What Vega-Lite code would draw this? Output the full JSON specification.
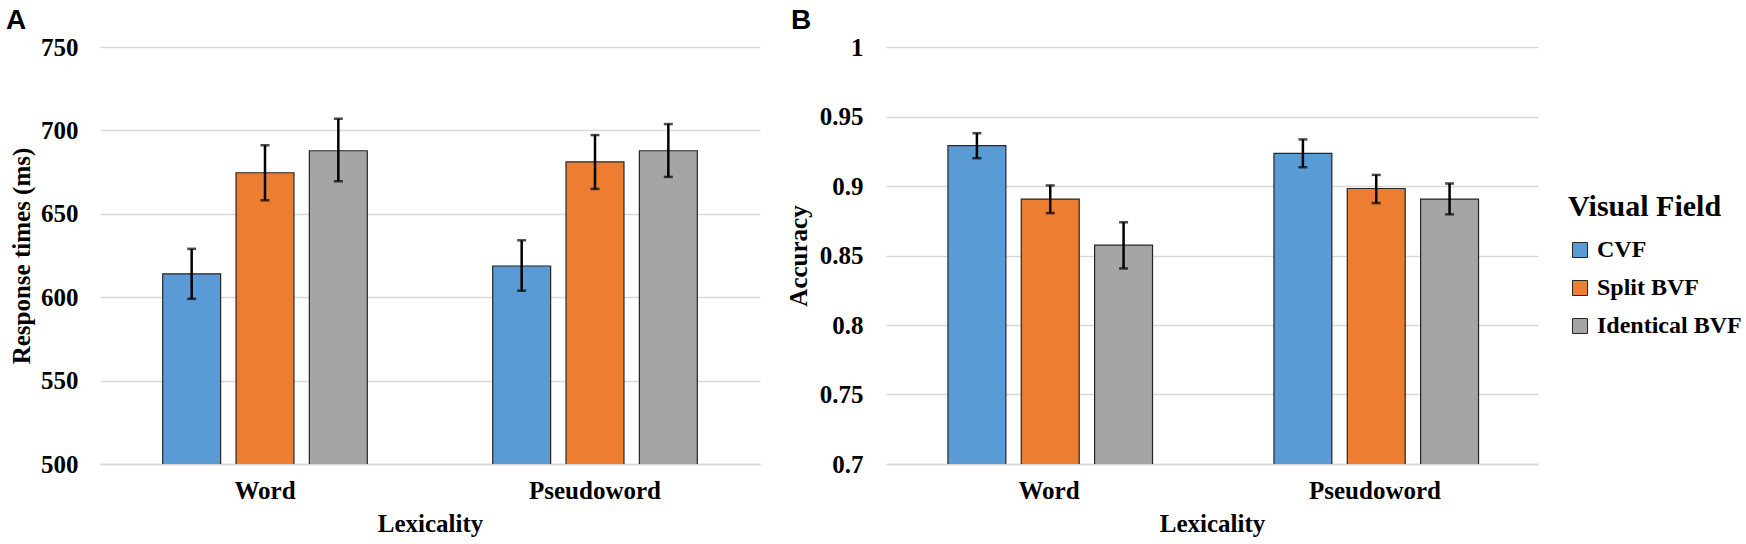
{
  "$schema": "https://vega.github.io/schema/vega-lite/v6.json",
  "background": "white",
  "padding": {"left": 6, "top": 7, "right": 5, "bottom": 5},
  "bounds": "flush",
  "spacing": 126,
  "datasets": {
    "rt": [
      {"lex": "Word", "field": "CVF", "mean": 614.0, "lo": 599.0, "hi": 629.0},
      {"lex": "Word", "field": "Split BVF", "mean": 674.6, "lo": 658.1, "hi": 691.1},
      {"lex": "Word", "field": "Identical BVF", "mean": 687.8, "lo": 669.5, "hi": 707.0},
      {"lex": "Pseudoword", "field": "CVF", "mean": 618.7, "lo": 603.9, "hi": 634.1},
      {"lex": "Pseudoword", "field": "Split BVF", "mean": 681.1, "lo": 664.9, "hi": 697.2},
      {"lex": "Pseudoword", "field": "Identical BVF", "mean": 687.8, "lo": 672.1, "hi": 703.8}
    ],
    "acc": [
      {"lex": "Word", "field": "CVF", "mean": 0.929, "lo": 0.920, "hi": 0.938},
      {"lex": "Word", "field": "Split BVF", "mean": 0.8906, "lo": 0.8805, "hi": 0.9004},
      {"lex": "Word", "field": "Identical BVF", "mean": 0.8574, "lo": 0.8407, "hi": 0.8739},
      {"lex": "Pseudoword", "field": "CVF", "mean": 0.9235, "lo": 0.9135, "hi": 0.9335},
      {"lex": "Pseudoword", "field": "Split BVF", "mean": 0.8982, "lo": 0.8877, "hi": 0.908},
      {"lex": "Pseudoword", "field": "Identical BVF", "mean": 0.8906, "lo": 0.8796, "hi": 0.9018}
    ]
  },
  "resolve": {"legend": {"color": "independent"}, "scale": {"y": "independent"}},
  "hconcat": [
    {
      "width": 660,
      "height": 417,
      "data": {"name": "rt"},
      "title": {"text": "A", "anchor": "start", "frame": "group", "dx": -94, "offset": 0},
      "encoding": {
        "x": {
          "field": "lex", "type": "nominal", "sort": ["Word", "Pseudoword"],
          "scale": {"paddingInner": 0.38, "paddingOuter": 0.19},
          "axis": {"title": "Lexicality"}
        },
        "xOffset": {
          "field": "field", "type": "nominal", "sort": ["CVF", "Split BVF", "Identical BVF"],
          "scale": {"paddingInner": 0.21, "paddingOuter": 0}
        }
      },
      "layer": [
        {
          "mark": {"type": "bar", "stroke": "#262626", "strokeWidth": 1.2, "clip": true},
          "encoding": {
            "y": {
              "field": "mean", "type": "quantitative",
              "scale": {"domain": [500, 750], "zero": false, "nice": false},
              "axis": {"title": "Response times (ms)", "values": [500, 550, 600, 650, 700, 750], "labelPadding": 22, "titlePadding": 6}
            },
            "color": {
              "field": "field", "type": "nominal", "sort": ["CVF", "Split BVF", "Identical BVF"],
              "scale": {"domain": ["CVF", "Split BVF", "Identical BVF"], "range": ["#5B9BD5", "#ED7D31", "#A5A5A5"]},
              "legend": null
            }
          }
        },
        {
          "mark": {"type": "rule", "color": "#000", "strokeWidth": 2.5},
          "encoding": {"y": {"field": "lo", "type": "quantitative"}, "y2": {"field": "hi"}}
        },
        {
          "mark": {"type": "tick", "color": "#000", "size": 9, "thickness": 2.5},
          "encoding": {"y": {"field": "lo", "type": "quantitative"}}
        },
        {
          "mark": {"type": "tick", "color": "#000", "size": 9, "thickness": 2.5},
          "encoding": {"y": {"field": "hi", "type": "quantitative"}}
        }
      ]
    },
    {
      "width": 652,
      "height": 417,
      "data": {"name": "acc"},
      "title": {"text": "B", "anchor": "start", "frame": "group", "dx": -95, "offset": 0},
      "encoding": {
        "x": {
          "field": "lex", "type": "nominal", "sort": ["Word", "Pseudoword"],
          "scale": {"paddingInner": 0.38, "paddingOuter": 0.19},
          "axis": {"title": "Lexicality"}
        },
        "xOffset": {
          "field": "field", "type": "nominal", "sort": ["CVF", "Split BVF", "Identical BVF"],
          "scale": {"paddingInner": 0.21, "paddingOuter": 0}
        }
      },
      "layer": [
        {
          "mark": {"type": "bar", "stroke": "#262626", "strokeWidth": 1.2, "clip": true},
          "encoding": {
            "y": {
              "field": "mean", "type": "quantitative",
              "scale": {"domain": [0.7, 1], "zero": false, "nice": false},
              "axis": {"title": "Accuracy", "values": [0.7, 0.75, 0.8, 0.85, 0.9, 0.95, 1], "format": "~g", "labelPadding": 23, "titlePadding": 8}
            },
            "color": {
              "field": "field", "type": "nominal", "sort": ["CVF", "Split BVF", "Identical BVF"],
              "scale": {"domain": ["CVF", "Split BVF", "Identical BVF"], "range": ["#5B9BD5", "#ED7D31", "#A5A5A5"]},
              "legend": {
                "orient": "none", "legendX": 682, "legendY": 145,
                "title": "Visual Field",
                "titleFontSize": 30, "titlePadding": 16, "titleLimit": 300,
                "labelFontSize": 24, "labelLimit": 300, "labelOffset": 5,
                "symbolType": "square", "symbolSize": 225, "symbolStrokeColor": "#262626", "symbolStrokeWidth": 1, "symbolOpacity": 1,
                "rowPadding": 14
              }
            }
          }
        },
        {
          "mark": {"type": "rule", "color": "#000", "strokeWidth": 2.5},
          "encoding": {"y": {"field": "lo", "type": "quantitative"}, "y2": {"field": "hi"}}
        },
        {
          "mark": {"type": "tick", "color": "#000", "size": 9, "thickness": 2.5},
          "encoding": {"y": {"field": "lo", "type": "quantitative"}}
        },
        {
          "mark": {"type": "tick", "color": "#000", "size": 9, "thickness": 2.5},
          "encoding": {"y": {"field": "hi", "type": "quantitative"}}
        }
      ]
    }
  ],
  "config": {
    "font": "Liberation Serif",
    "view": {"stroke": null},
    "title": {"font": "Liberation Sans", "fontSize": 28, "fontWeight": "bold", "color": "#000"},
    "axis": {
      "labelFont": "Liberation Serif", "labelFontSize": 25, "labelFontWeight": "bold", "labelColor": "#000",
      "titleFont": "Liberation Serif", "titleFontSize": 25, "titleFontWeight": "bold", "titleColor": "#000",
      "ticks": false
    },
    "legend": {
      "labelFont": "Liberation Serif", "labelFontWeight": "bold", "labelColor": "#000",
      "titleFont": "Liberation Serif", "titleFontWeight": "bold", "titleColor": "#000"
    },
    "axisY": {"domain": false, "grid": true, "gridColor": "#d9d9d9", "gridWidth": 1.5},
    "axisX": {"labelAngle": 0, "domain": true, "domainColor": "#d9d9d9", "domainWidth": 1.5, "labelPadding": 14, "titlePadding": 8, "grid": false}
  }
}
